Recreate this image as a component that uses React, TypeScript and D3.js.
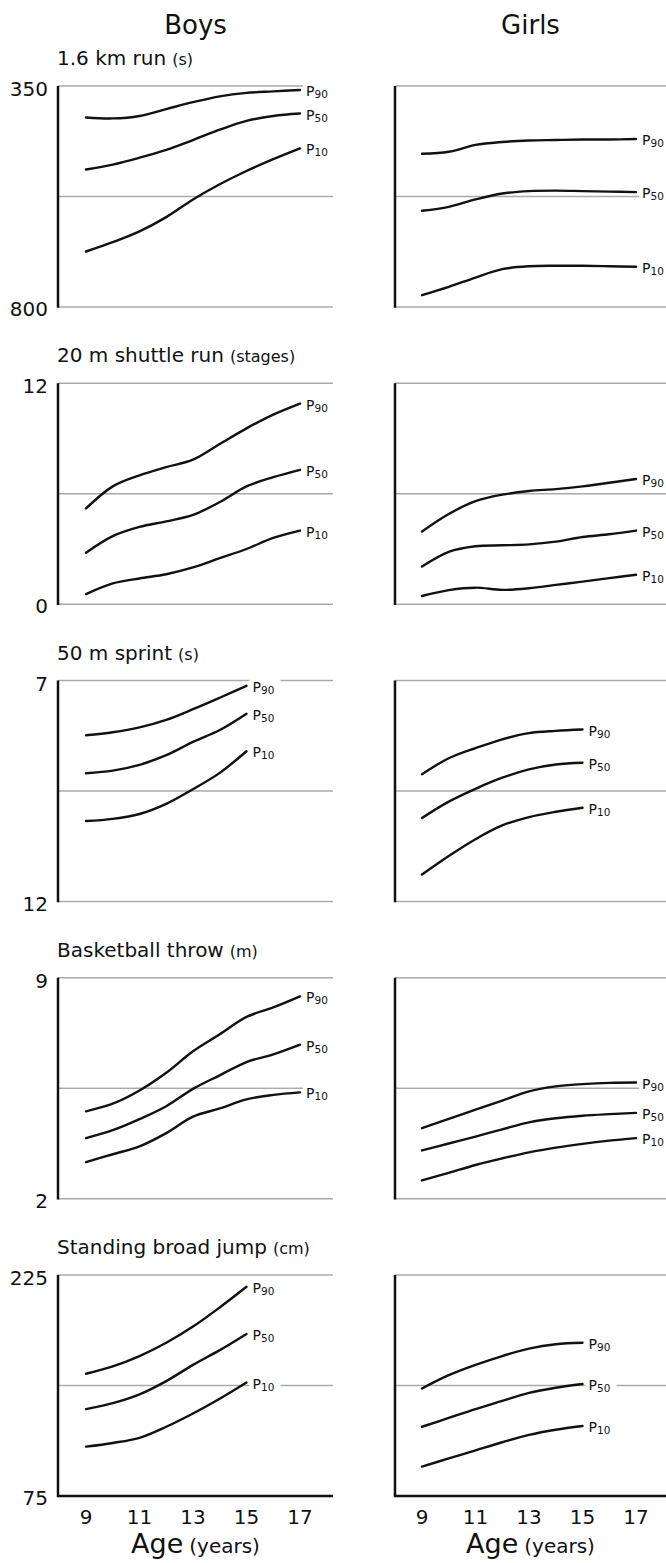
import React from "react";
import * as d3 from "d3";

// ---------- data ----------
const agesFull = [9, 10, 11, 12, 13, 14, 15, 16, 17];
const agesShort = [9, 10, 11, 12, 13, 14, 15];
const xTicks = [9, 11, 13, 15, 17];
const sexes = ["Boys", "Girls"];
const percentileNames = ["90", "50", "10"];

// 1.6 km run (s) — axis 350 (top) to 800 (bottom)
const runBoysP90 = [414, 416, 411, 397, 383, 371, 364, 361, 358];
const runBoysP50 = [520, 510, 496, 480, 460, 439, 421, 411, 406];
const runBoysP10 = [687, 668, 646, 617, 581, 550, 523, 499, 477];
const runGirlsP90 = [488, 484, 470, 464, 461, 460, 459, 459, 458];
const runGirlsP50 = [604, 596, 581, 569, 564, 563, 564, 565, 566];
const runGirlsP10 = [776, 759, 740, 723, 717, 716, 716, 717, 718];

// 20 m shuttle run (stages) — 12 (top) to 0 (bottom)
const shuttleBoysP90 = [5.2, 6.4, 7.0, 7.45, 7.85, 8.7, 9.55, 10.3, 10.9];
const shuttleBoysP50 = [2.8, 3.7, 4.2, 4.5, 4.85, 5.55, 6.4, 6.9, 7.3];
const shuttleBoysP10 = [0.55, 1.13, 1.4, 1.63, 2.0, 2.5, 3.0, 3.6, 4.0];
const shuttleGirlsP90 = [3.95, 4.9, 5.6, 5.95, 6.15, 6.25, 6.4, 6.6, 6.8];
const shuttleGirlsP50 = [2.05, 2.85, 3.15, 3.2, 3.25, 3.4, 3.65, 3.8, 4.0];
const shuttleGirlsP10 = [0.45, 0.77, 0.9, 0.78, 0.87, 1.05, 1.23, 1.42, 1.6];

// 50 m sprint (s) — 7 (top) to 12 (bottom)
const sprintBoysP90 = [8.24, 8.17, 8.06, 7.89, 7.65, 7.39, 7.12];
const sprintBoysP50 = [9.1, 9.04, 8.91, 8.69, 8.39, 8.12, 7.75];
const sprintBoysP10 = [10.18, 10.13, 10.02, 9.79, 9.46, 9.09, 8.6];
const sprintGirlsP90 = [9.12, 8.76, 8.53, 8.33, 8.19, 8.14, 8.11];
const sprintGirlsP50 = [10.11, 9.74, 9.45, 9.2, 9.01, 8.9, 8.86];
const sprintGirlsP10 = [11.39, 10.97, 10.59, 10.28, 10.09, 9.97, 9.88];

// Basketball throw (m) — 9 (top) to 2 (bottom)
const throwBoysP90 = [4.77, 5.01, 5.43, 5.99, 6.67, 7.21, 7.76, 8.06, 8.41];
const throwBoysP50 = [3.92, 4.17, 4.52, 4.93, 5.48, 5.91, 6.33, 6.57, 6.88];
const throwBoysP10 = [3.16, 3.41, 3.66, 4.08, 4.6, 4.86, 5.15, 5.29, 5.37];
const throwGirlsP90 = [4.24, 4.53, 4.82, 5.11, 5.4, 5.56, 5.63, 5.67, 5.68];
const throwGirlsP50 = [3.53, 3.75, 3.97, 4.2, 4.42, 4.55, 4.63, 4.68, 4.72];
const throwGirlsP10 = [2.58, 2.82, 3.07, 3.28, 3.47, 3.62, 3.74, 3.84, 3.92];

// Standing broad jump (cm) — 225 (top) to 75 (bottom)
const jumpBoysP90 = [158, 163, 170, 179, 190, 203, 217];
const jumpBoysP50 = [134, 138, 144, 153, 164, 174, 185];
const jumpBoysP10 = [108.5, 111, 114.5, 122, 131, 141, 152];
const jumpGirlsP90 = [148, 157, 164, 170, 175, 178, 179];
const jumpGirlsP50 = [122, 128, 134, 139.5, 145, 148.5, 151];
const jumpGirlsP10 = [95, 100.5, 106, 111.5, 116.5, 120, 122.5];

const panelTitles = ["1.6 km run", "20 m shuttle run", "50 m sprint", "Basketball throw", "Standing broad jump"];
const panelUnits = ["(s)", "(stages)", "(s)", "(m)", "(cm)"];
const panelTop = [350, 12, 7, 9, 225];
const panelBottom = [800, 0, 12, 2, 75];

const panels = [
  { ages: agesFull, boys: [runBoysP90, runBoysP50, runBoysP10], girls: [runGirlsP90, runGirlsP50, runGirlsP10] },
  { ages: agesFull, boys: [shuttleBoysP90, shuttleBoysP50, shuttleBoysP10], girls: [shuttleGirlsP90, shuttleGirlsP50, shuttleGirlsP10] },
  { ages: agesShort, boys: [sprintBoysP90, sprintBoysP50, sprintBoysP10], girls: [sprintGirlsP90, sprintGirlsP50, sprintGirlsP10] },
  { ages: agesFull, boys: [throwBoysP90, throwBoysP50, throwBoysP10], girls: [throwGirlsP90, throwGirlsP50, throwGirlsP10] },
  { ages: agesShort, boys: [jumpBoysP90, jumpBoysP50, jumpBoysP10], girls: [jumpGirlsP90, jumpGirlsP50, jumpGirlsP10] },
];

// ---------- layout ----------
const W = 666;
const H = 1563;
const FONT = "'DejaVu Sans', Verdana, sans-serif";
const columns = [
  { axisX: 58, rightX: 333, x0: 86, x1: 300 },
  { axisX: 395, rightX: 666, x0: 422, x1: 636 },
];
const firstTop = 86;
const panelStep = 297.25;
const panelH = 221;
const GRAY = "#aaaaaa";

export default function App() {
  const line = d3.line<[number, number]>().curve(d3.curveCatmullRom.alpha(0.5));

  return (
    <svg width={W} height={H} style={{ position: "absolute", left: 0, top: 0, background: "#fff" }} fontFamily={FONT}>
      {sexes.map((s, ci) => (
        <text key={s} x={(columns[ci].axisX + columns[ci].rightX) / 2} y={34} fontSize={26} textAnchor="middle" fill="#111">
          {s}
        </text>
      ))}

      {panels.map((p, pi) => {
        const top = firstTop + pi * panelStep;
        const bottom = top + panelH;
        const y = d3.scaleLinear().domain([panelTop[pi], panelBottom[pi]]).range([top, bottom]);
        const mid = (panelTop[pi] + panelBottom[pi]) / 2;
        const isLast = pi === panels.length - 1;
        return (
          <g key={pi}>
            <text x={57} y={top - 21} fill="#111">
              <tspan fontSize={20}>{panelTitles[pi]}</tspan>
              <tspan fontSize={16} dx={6}>{panelUnits[pi]}</tspan>
            </text>
            <text x={48} y={y(panelTop[pi]) + 3} fontSize={20} textAnchor="end" dominantBaseline="central" fill="#111">
              {panelTop[pi]}
            </text>
            <text x={48} y={y(panelBottom[pi]) + 2} fontSize={20} textAnchor="end" dominantBaseline="central" fill="#111">
              {panelBottom[pi]}
            </text>
            {columns.map((c, ci) => {
              const x = d3.scaleLinear().domain([9, 17]).range([c.x0, c.x1]);
              const series = ci === 0 ? p.boys : p.girls;
              const ends = series.map((vals) => {
                const a = p.ages[p.ages.length - 1];
                return [x(a), y(vals[vals.length - 1])];
              });
              return (
                <g key={ci}>
                  <line x1={c.axisX} x2={c.rightX} y1={y(panelTop[pi])} y2={y(panelTop[pi])} stroke={GRAY} strokeWidth={1.5} />
                  <line x1={c.axisX} x2={c.rightX} y1={y(mid)} y2={y(mid)} stroke={GRAY} strokeWidth={1.5} />
                  <line
                    x1={c.axisX}
                    x2={c.rightX}
                    y1={y(panelBottom[pi])}
                    y2={y(panelBottom[pi])}
                    stroke={isLast ? "#111" : GRAY}
                    strokeWidth={isLast ? 2.5 : 1.5}
                  />
                  <line x1={c.axisX} x2={c.axisX} y1={top} y2={bottom + (isLast ? 1.2 : 0.75)} stroke="#111" strokeWidth={2.5} />
                  {ends.map(([ex, ey], si) => (
                    <rect key={"bg" + si} x={ex + 3} y={ey - 8} width={31} height={17} fill="#fff" />
                  ))}
                  {series.map((vals, si) => (
                    <path
                      key={si}
                      d={line(vals.map((v, i) => [x(p.ages[i]), y(v)]) as [number, number][]) || ""}
                      fill="none"
                      stroke="#111"
                      strokeWidth={2.4}
                      strokeLinecap="round"
                    />
                  ))}
                  {ends.map(([ex, ey], si) => (
                    <text key={"lb" + si} x={ex + 6} y={ey + 6} fill="#111">
                      <tspan fontSize={14}>P</tspan>
                      <tspan fontSize={10.5} dy={2}>{percentileNames[si]}</tspan>
                    </text>
                  ))}
                  {isLast &&
                    xTicks.map((t) => (
                      <text key={t} x={x(t)} y={1524} fontSize={20} textAnchor="middle" fill="#111">
                        {t}
                      </text>
                    ))}
                  {isLast && (
                    <text x={(c.axisX + c.rightX) / 2} y={1553} textAnchor="middle" fill="#111">
                      <tspan fontSize={27}>Age</tspan>
                      <tspan fontSize={20} dx={6}>(years)</tspan>
                    </text>
                  )}
                </g>
              );
            })}
          </g>
        );
      })}
    </svg>
  );
}
